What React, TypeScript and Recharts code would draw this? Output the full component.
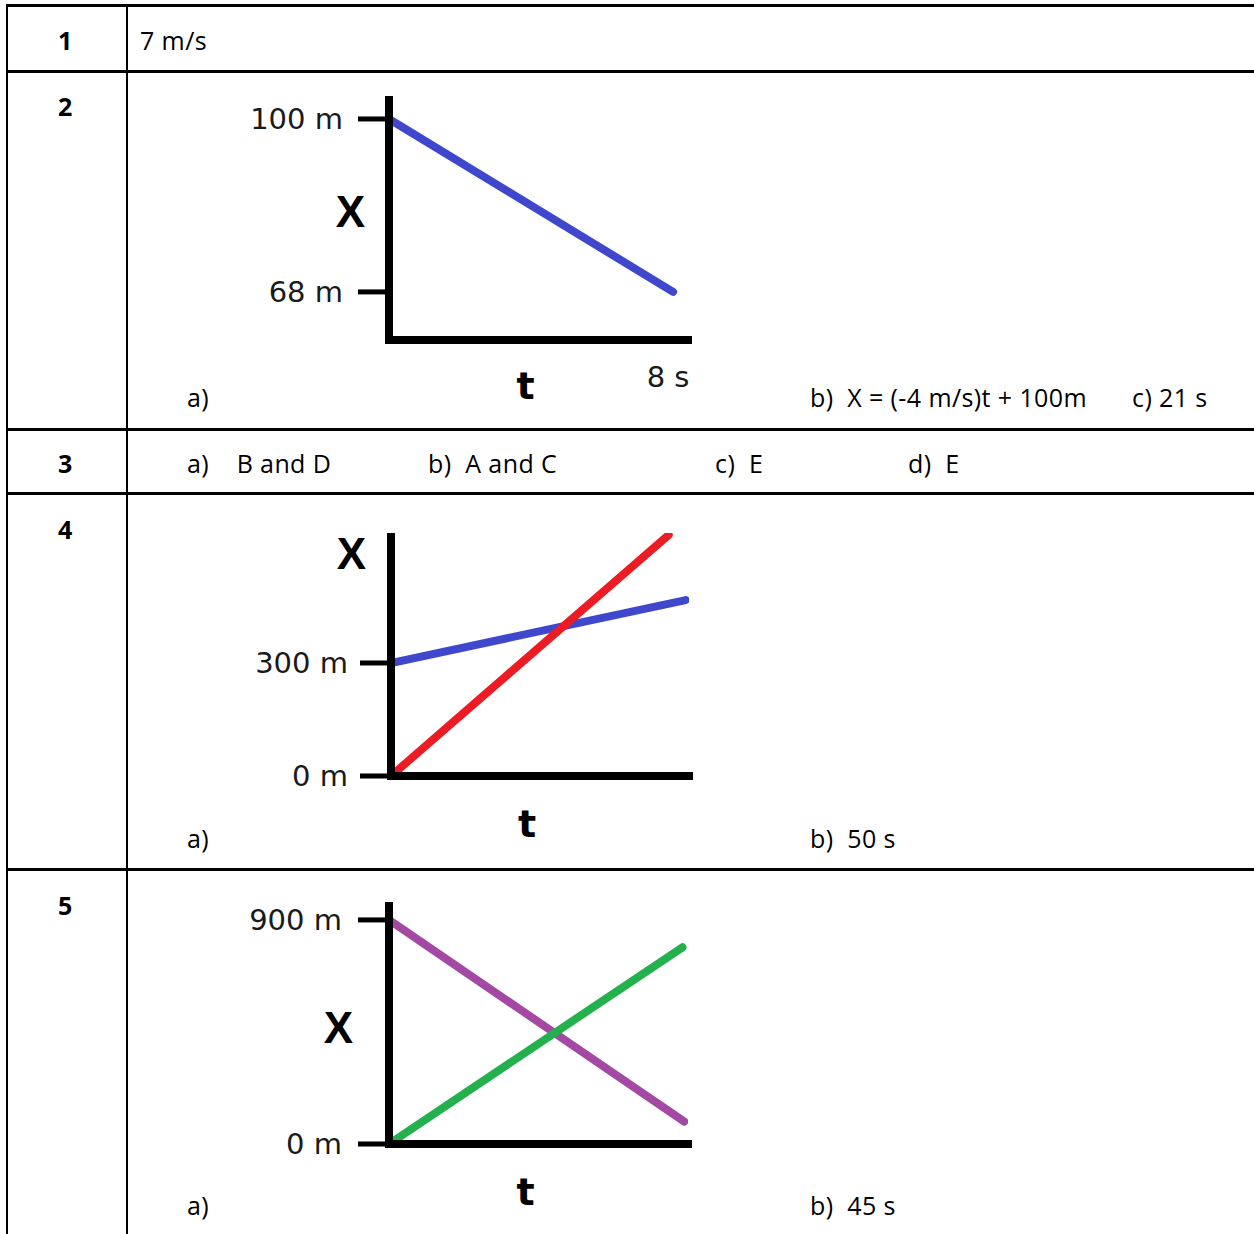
import React from "react";
import { LineChart, Line, XAxis, YAxis, Label } from "recharts";

// problem 2: one object, constant velocity
const p2Time = [0, 8];
const p2Pos = [100, 68];
const p2Ticks = [68, 100];
const p2TimeTicks = [8];

// problem 4: two objects
const p4TimeBlue = [0, 87];
const p4PosBlue = [300, 467];
const p4TimeRed = [0, 82];
const p4PosRed = [0, 640];
const p4Ticks = [0, 300];

// problem 5: two objects moving towards each other
const p5TimePurple = [0, 80];
const p5PosPurple = [900, 90];
const p5TimeGreen = [0, 79.5];
const p5PosGreen = [0, 790];
const p5Ticks = [0, 900];

const toPoints = (ts: number[], xs: number[]) =>
  ts.map((t, i) => ({ t, x: xs[i] }));

const tickFont = { fill: "#1a1a1a", fontSize: 29, fontFamily: "DejaVu Sans" };
const axisStyle = { stroke: "#000", strokeWidth: 8 };
const xLabelStyle = {
  fill: "#000",
  fontSize: 44,
  fontWeight: 700,
  fontFamily: "Liberation Sans",
};
const tLabelStyle = {
  fill: "#000",
  fontSize: 38,
  fontWeight: 700,
  fontFamily: "DejaVu Sans",
};

interface Serie {
  data: { t: number; x: number }[];
  color: string;
}

interface GraphProps {
  width: number;
  height: number;
  margin: { top: number; right: number; bottom: number; left: number };
  yWidth: number;
  xHeight: number;
  xDomain: [number, number];
  yDomain: [number, number];
  yTicks: number[];
  yTickMargin: number;
  xTicks?: number[];
  xLabel: React.ReactNode;
  series: Serie[];
  tOffset: number;
}

function Graph(p: GraphProps) {
  return (
    <LineChart width={p.width} height={p.height} margin={p.margin}>
      <XAxis
        type="number"
        dataKey="t"
        domain={p.xDomain}
        allowDataOverflow
        ticks={p.xTicks ?? []}
        interval={0}
        tickFormatter={(v: number) => `${v} s`}
        tick={{ ...tickFont, dx: -5 }}
        tickLine={false}
        tickSize={0}
        tickMargin={26}
        height={p.xHeight}
        axisLine={{ ...axisStyle, strokeLinecap: "square" }}
      >
        <Label
          value="t"
          position="insideTop"
          offset={p.tOffset}
          dx={-13}
          style={tLabelStyle}
        />
      </XAxis>
      <YAxis
        type="number"
        dataKey="x"
        domain={p.yDomain}
        allowDataOverflow
        ticks={p.yTicks}
        interval={0}
        width={p.yWidth}
        tickFormatter={(v: number) => `${v} m`}
        tick={tickFont}
        tickSize={31}
        tickMargin={p.yTickMargin}
        tickLine={{ stroke: "#000", strokeWidth: 5 }}
        axisLine={axisStyle}
      >
        {p.xLabel}
      </YAxis>
      {p.series.map((s, i) => (
        <Line
          key={i}
          data={s.data}
          dataKey="x"
          type="linear"
          stroke={s.color}
          strokeWidth={8}
          strokeLinecap="round"
          dot={false}
          activeDot={false}
          isAnimationActive={false}
        />
      ))}
    </LineChart>
  );
}

const hLines = [4, 70, 428, 492, 868];
const vLines = [6, 126];

const txt = (left: number, cy: number, s: string, bold = false) => (
  <div
    key={`${left}-${cy}-${s}`}
    style={{
      position: "absolute",
      left,
      top: cy - 17,
      height: 34,
      lineHeight: "34px",
      fontSize: 25,
      letterSpacing: 0.4,
      fontWeight: bold ? 700 : 400,
      whiteSpace: "pre",
      color: "#000",
    }}
  >
    {s}
  </div>
);

export default function App() {
  return (
    <div
      style={{
        position: "absolute",
        left: 0,
        top: 0,
        width: 1254,
        height: 1234,
        background: "#fff",
        overflow: "hidden",
        fontFamily: "'Open Sans', sans-serif",
      }}
    >
      {hLines.map((y) => (
        <div
          key={`h${y}`}
          style={{ position: "absolute", left: 6, top: y, width: 1260, height: 3, background: "#000" }}
        />
      ))}
      {vLines.map((x) => (
        <div
          key={`v${x}`}
          style={{ position: "absolute", left: x, top: 4, width: 2, height: 1240, background: "#000" }}
        />
      ))}

      {txt(58, 40, "1", true)}
      {txt(140, 40, "7 m/s")}
      {txt(58, 106, "2", true)}
      {txt(187, 397, "a)")}
      {txt(810, 397, "b)  X = (-4 m/s)t + 100m")}
      {txt(1132, 397, "c) 21 s")}
      {txt(58, 463, "3", true)}
      {txt(187, 463, "a)    B and D")}
      {txt(428, 463, "b)  A and C")}
      {txt(715, 463, "c)  E")}
      {txt(908, 463, "d)  E")}
      {txt(58, 529, "4", true)}
      {txt(187, 838, "a)")}
      {txt(810, 838, "b)  50 s")}
      {txt(58, 905, "5", true)}
      {txt(187, 1205, "a)")}
      {txt(810, 1205, "b)  45 s")}

      <div style={{ position: "absolute", left: 220, top: 80 }}>
        <Graph
          width={500}
          height={340}
          margin={{ top: 16, right: 32, bottom: 20, left: 0 }}
          yWidth={169}
          xHeight={60}
          xDomain={[0, 8.42]}
          yDomain={[59.1, 104.25]}
          yTicks={p2Ticks}
          yTickMargin={15}
          xTicks={p2TimeTicks}
          tOffset={32}
          xLabel={<Label value="X" position="insideRight" offset={24} dy={-7} style={xLabelStyle} />}
          series={[{ data: toPoints(p2Time, p2Pos), color: "#3f48cc" }]}
        />
      </div>

      <div style={{ position: "absolute", left: 220, top: 500 }}>
        <Graph
          width={500}
          height={360}
          margin={{ top: 33, right: 31, bottom: 24, left: 0 }}
          yWidth={171}
          xHeight={60}
          xDomain={[0, 88]}
          yDomain={[0, 645]}
          yTicks={p4Ticks}
          yTickMargin={12}
          tOffset={34}
          xLabel={<Label value="X" position="insideTopRight" offset={25} dy={-20} style={xLabelStyle} />}
          series={[
            { data: toPoints(p4TimeBlue, p4PosBlue), color: "#3f48cc" },
            { data: toPoints(p4TimeRed, p4PosRed), color: "#ed1c24" },
          ]}
        />
      </div>

      <div style={{ position: "absolute", left: 220, top: 880 }}>
        <Graph
          width={500}
          height={354}
          margin={{ top: 22, right: 32, bottom: 20, left: 0 }}
          yWidth={169}
          xHeight={70}
          xDomain={[0, 81]}
          yDomain={[0, 972]}
          yTicks={p5Ticks}
          yTickMargin={16}
          tOffset={34}
          xLabel={<Label value="X" position="insideRight" offset={36} dy={4} style={xLabelStyle} />}
          series={[
            { data: toPoints(p5TimePurple, p5PosPurple), color: "#a349a4" },
            { data: toPoints(p5TimeGreen, p5PosGreen), color: "#22b14c" },
          ]}
        />
      </div>
    </div>
  );
}
